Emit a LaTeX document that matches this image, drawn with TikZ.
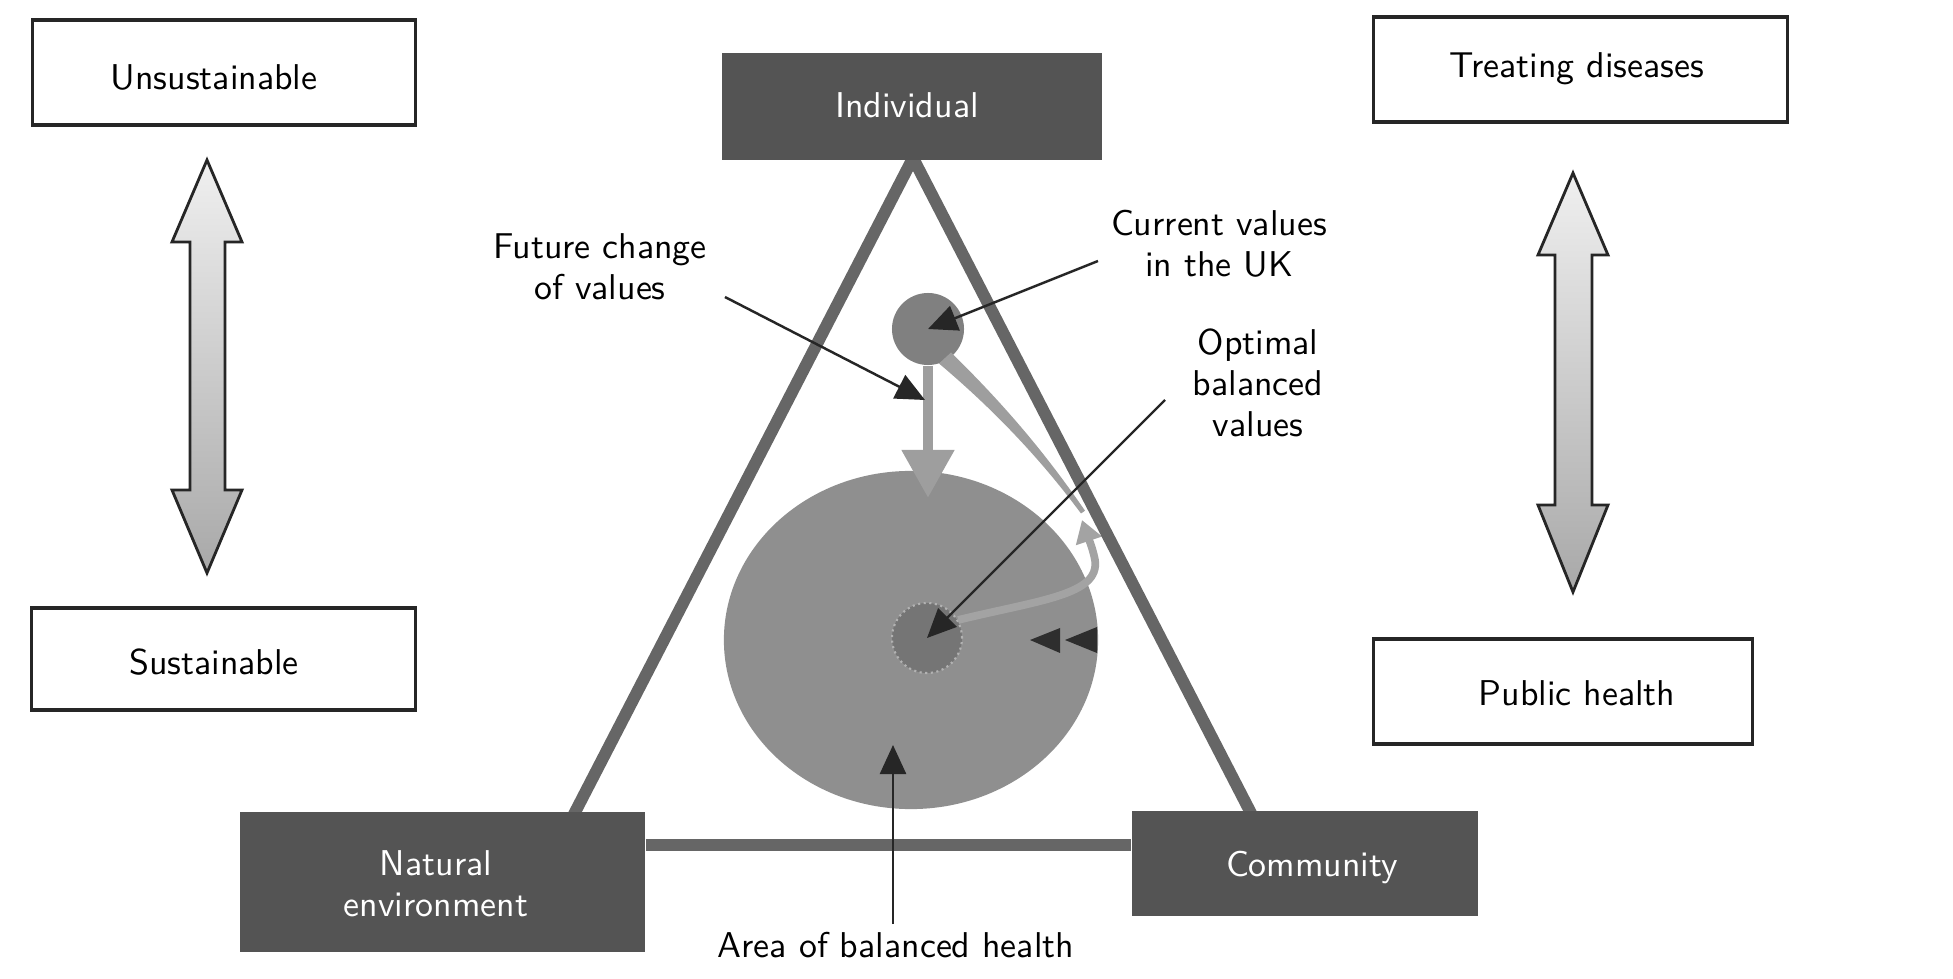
\documentclass[tikz,border=0pt]{standalone}
\usetikzlibrary{arrows.meta,shapes.geometric}
\definecolor{bigc}{gray}{0.56}
\definecolor{curc}{gray}{0.50}
\definecolor{optc}{gray}{0.46}
\definecolor{legc}{gray}{0.40}
\definecolor{boxc}{gray}{0.33}
\definecolor{flowc}{gray}{0.62}
\definecolor{hookc}{gray}{0.64}
\definecolor{darkc}{gray}{0.18}
\begin{document}
\begin{tikzpicture}[x=0.01cm,y=-0.01cm,
  lbl/.style={font=\sffamily\fontsize{10.2}{11.6}\selectfont, align=center, inner sep=0pt},
  wbox/.style={draw=black!85, line width=0.9pt, fill=white, inner sep=0pt},
  dbox/.style={fill=boxc, inner sep=0pt},
  wlbl/.style={lbl, text=white},
  leg/.style={draw=legc, line width=3.4pt},
  pointer/.style={draw=black!85, line width=0.7pt, -{Triangle[length=2.9mm,width=2.6mm]}},
  dblarrow/.style={draw=black!85, line width=0.8pt, top color=gray!12, bottom color=gray!68}]
\useasboundingbox (0,0) rectangle (1953,979);

% big area and small circles
\node[ellipse, fill=bigc, minimum width=3.74cm, minimum height=3.38cm, inner sep=0pt] (big) at (911,640) {};
\node[circle, fill=optc, draw=gray!60, densely dotted, line width=0.6pt, minimum size=0.70cm, inner sep=0pt] (opt) at (927,638) {};
\node[circle, fill=curc, minimum size=0.72cm, inner sep=0pt] (cur) at (928,329) {};

% flow from current values
\coordinate (flowend) at (928,498);
\draw[flowc, line width=3.1pt, -{Triangle[length=4.8mm,width=5mm]}] (cur.south) -- (flowend);
\fill[flowc] (951,352.5) .. controls (1010,410) and (1050,460) .. (1085,510.7) -- (1081,513.5) .. controls (1045,465) and (1000,415) .. (939,363.5) -- cycle;
\coordinate (hooktip) at (1082,520);
\draw[hookc, line width=2.2pt, -{Triangle[length=2.2mm,width=2.6mm]}] (opt.30) .. controls (1040,600) and (1100,595) .. (1095,560) .. controls (1092,545) and (1087,535) .. (hooktip);

% two dark arrowheads
\fill[darkc] (1030,640) -- (1060,628) -- (1060,653) -- cycle;
\fill[darkc] (1065,640) -- (1097,627) -- (1097,653) -- cycle;

% triangle
\coordinate (lfoot) at (571,820);
\coordinate (rfoot) at (1254,819);
\coordinate (bl) at (640,845);
\draw[leg, line join=miter] (lfoot) -- (913,158) -- (rfoot);

% boxes
\node[wbox, minimum width=3.82cm, minimum height=1.05cm] (unsus) at (224,72.5) {};
\node[wbox, minimum width=3.83cm, minimum height=1.02cm] (sus) at (223.5,659) {};
\node[wbox, minimum width=4.13cm, minimum height=1.05cm] (treat) at (1580.5,69.5) {};
\node[wbox, minimum width=3.78cm, minimum height=1.05cm] (pub) at (1563,691.5) {};
\node[dbox, minimum width=3.80cm, minimum height=1.07cm] (ind) at (912,106.5) {};
\node[dbox, minimum width=4.05cm, minimum height=1.40cm] (nat) at (442.5,882) {};
\node[dbox, minimum width=3.46cm, minimum height=1.05cm] (com) at (1305,863.5) {};
\draw[leg] (nat.east |- bl) -- (com.west |- bl);

\node[lbl] (unsusT) at (214,77) {Unsustainable};
\node[lbl] (susT) at (214,662) {Sustainable};
\node[lbl] (treatT) at (1577,69) {Treating diseases};
\node[lbl] (pubT) at (1577,693) {Public health};
\node[wlbl] (indT) at (907,105) {Individual};
\node[wlbl] (natT) at (436,884) {Natural\\environment};
\node[wlbl] (comT) at (1312,868) {Community};

% double arrows
\shadedraw[dblarrow] (207,160) -- (242,242) -- (225,242) -- (225,490) -- (242,490) -- (207,573) -- (172,490) -- (190,490) -- (190,242) -- (172,242) -- cycle;
\shadedraw[dblarrow] (1573,173) -- (1608,255) -- (1592,255) -- (1592,505) -- (1608,505) -- (1573,592) -- (1538,505) -- (1555,505) -- (1555,255) -- (1538,255) -- cycle;

% labels
\node[lbl] (fut) at (600,267) {Future change\\of values};
\node[lbl] (curT) at (1219,244) {Current values\\in the UK};
\node[lbl] (optT) at (1258,383) {Optimal\\balanced\\values};
\node[lbl] (area) at (896,945) {Area of balanced health};

% pointers
\coordinate (futS) at (725,297);
\coordinate (futE) at (925,400);
\coordinate (curS) at (1098,261);
\coordinate (optS) at (1165,400);
\coordinate (areaS) at (893,924);
\coordinate (areaE) at (893,745);
\draw[pointer] (futS) -- (futE);
\draw[pointer] (curS) -- (cur.center);
\draw[pointer] (optS) -- (opt.center);
\draw[pointer] (areaS) -- (areaE);
\end{tikzpicture}
\end{document}
